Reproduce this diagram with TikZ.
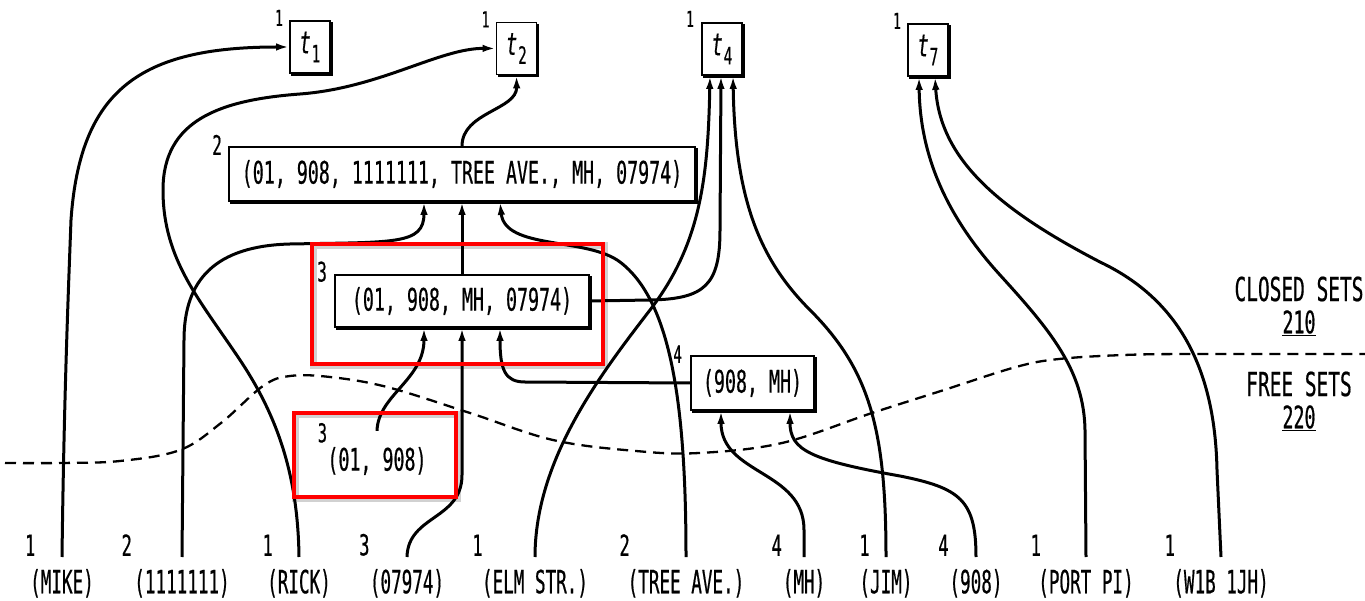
\documentclass[tikz,border=0pt]{standalone}
\usepackage{fontspec}
\setmainfont{DejaVu Sans Mono}[FakeStretch=0.59,FakeBold=0.5]
\newfontfamily\botfont{DejaVu Sans Mono}[FakeStretch=0.55,FakeBold=0.5]
\usetikzlibrary{arrows.meta}
\newcommand\tsub[1]{{\fontsize{31}{31}\selectfont\textit{t}}\kern1pt\raisebox{-9pt}{\fontsize{24}{24}\selectfont#1}}
\newcommand\shadowedges[1]{\draw[line width=3.6pt] ([xshift=2pt]#1.south west) -- (#1.south east) -- ([yshift=-2pt]#1.north east);}
\begin{document}
\begin{tikzpicture}[x=1pt,y=-1pt,
  every node/.style={font=\fontsize{31}{33}\selectfont},
  tbox/.style={draw, line width=1.8pt, minimum width=40pt, minimum height=52pt, inner sep=0pt},
  setbox/.style={draw, line width=1.8pt, inner sep=0pt},
  sup/.style={font=\fontsize{22}{22}\selectfont, inner sep=0pt, anchor=south east},
  bigsup/.style={font=\fontsize{27}{27}\selectfont, inner sep=0pt, anchor=south east},
  cnt/.style={font=\fontsize{29}{29}\selectfont, inner sep=0pt, anchor=south east, yshift=1pt},
  lbl/.style={anchor=north, inner sep=0pt, outer ysep=12pt, font=\botfont\fontsize{32}{34}\selectfont},
  conn/.style={line width=3pt, -{Latex[length=13pt,width=7.5pt]}},
  frontier/.style={line width=2.3pt, dash pattern=on 11pt off 7pt},
  hilite/.style={draw=red, line width=4pt},
  hiliteglow/.style={draw=black, opacity=0.18, line width=7pt}
]
\useasboundingbox (0,0) rectangle (1365,601);

% top target nodes
\node[tbox, label={[sup,xshift=-6pt,yshift=-6pt]north west:1}] (t1) at (310,47) {\tsub{1}};
\node[tbox, label={[sup,xshift=-6pt,yshift=-6pt]north west:1}] (t2) at (516.5,48.5) {\tsub{2}};
\node[tbox, label={[sup,xshift=-7pt,yshift=-5pt]north west:1}] (t4) at (722,49) {\tsub{4}};
\node[tbox, label={[sup,xshift=-6pt,yshift=-6pt]north west:1}] (t7) at (928,50) {\tsub{7}};
\shadowedges{t1}\shadowedges{t2}\shadowedges{t4}\shadowedges{t7}

% closed set boxes
\node[setbox, minimum width=466pt, minimum height=54pt, label={[bigsup,xshift=-6pt,yshift=-9pt]north west:2}] (big) at (462,174) {(01, 908, 1111111, TREE AVE., MH, 07974)};
\node[setbox, minimum width=254pt, minimum height=52pt, label={[bigsup,xshift=-7pt,yshift=-8pt]north west:3}] (box2) at (462,301) {(01, 908, MH, 07974)};
\node[setbox, minimum width=123pt, minimum height=54pt, label={[sup,font=\fontsize{24}{24}\selectfont,xshift=-8pt,yshift=-8pt]north west:4}] (mhbox) at (752.5,383) {(908, MH)};
\shadowedges{big}\shadowedges{box2}\shadowedges{mhbox}

% free set
\node[inner sep=0pt, label={[sup,font=\fontsize{26}{26}\selectfont,yshift=4pt]north west:3}] (pair) at (377,461) {(01, 908)};

% region labels
\node[font=\fontsize{33}{35}\selectfont] (closed) at (1299,289) {CLOSED SETS};
\node (c210) at (1299,323) {\underline{210}};
\node[font=\fontsize{33}{35}\selectfont] (free) at (1299,384) {FREE SETS};
\node (f220) at (1299,418) {\underline{220}};

% bottom items
\node[lbl, label={[cnt,xshift=5.5pt]north west:1}] (mike) at (62,557) {(MIKE)};
\node[lbl, label={[cnt,xshift=-2pt]north west:2}] (one7) at (182,557) {(1111111)};
\node[lbl, label={[cnt,xshift=6pt]north west:1}] (rick) at (299,557) {(RICK)};
\node[lbl, label={[cnt,xshift=0pt]north west:3}] (n07974) at (407,557) {(07974)};
\node[lbl, label={[cnt,xshift=1pt]north west:1}] (elm) at (535,557) {(ELM STR.)};
\node[lbl, label={[cnt,xshift=2.5pt]north west:2}] (tree) at (686,557) {(TREE AVE.)};
\node[lbl, label={[cnt,xshift=-0.5pt]north west:4}] (mh) at (804,557) {(MH)};
\node[lbl, label={[cnt,xshift=10.5pt]north west:1}] (jim) at (886,557) {(JIM)};
\node[lbl, label={[cnt,xshift=-0.5pt]north west:4}] (n908) at (976,557) {(908)};
\node[lbl, label={[cnt,xshift=3pt]north west:1}] (port) at (1086,557) {(PORT PI)};
\node[lbl, label={[cnt,xshift=2pt]north west:1}] (w1b) at (1221,557) {(W1B 1JH)};

% connectors
\draw[conn] (mike.north) .. controls (64,400) and (68,300) .. (71,220)
  .. controls (80,90) and (140,47) .. (t1.west);
\draw[conn] (rick.north) .. controls (298,480) and (280,420) .. (240,360)
  .. controls (200,300) and (163,260) .. (163,190)
  .. controls (163,120) and (220,100) .. (300,94)
  .. controls (380,88) and (440,48) .. (t2.west);
\draw[conn] (one7.north) -- (184,340) .. controls (184,280) and (215,246) .. (290,244)
  .. controls (395,242) and (424,245) .. ([xshift=-38pt]big.south);
\draw[conn] (box2.north) -- (big.south);
\draw[conn] (big.north) .. controls (462,112) and (517,110) .. (t2.south);
\draw[conn] (tree.north) .. controls (686,400) and (670,300) .. (620,262)
  .. controls (587,237) and (505,250) .. ([xshift=38pt]big.south);
\draw[conn] (elm.north) .. controls (535,460) and (600,375) .. (650,310)
  .. controls (700,245) and (708,180) .. ([xshift=-12pt]t4.south);
\draw[conn] (box2.east) -- (650,300) .. controls (705,299) and (720,285) .. (720,230) -- ([xshift=-1pt]t4.south);
\draw[conn] (jim.north) .. controls (886,430) and (870,370) .. (810,310)
  .. controls (760,260) and (735,200) .. ([xshift=11pt]t4.south);
\draw[conn] (port.north) -- (1085,430) .. controls (1084,370) and (1050,330) .. (1000,275)
  .. controls (950,220) and (920,160) .. ([xshift=-9pt]t7.south);
\draw[conn] (w1b.north) -- (1217,470) .. controls (1215,370) and (1180,300) .. (1100,262)
  .. controls (1000,210) and (940,160) .. ([xshift=7pt]t7.south);
\draw[conn] (mh.north) -- (804,530) .. controls (804,470) and (721,475) .. ([xshift=-31.5pt]mhbox.south);
\draw[conn] (n908.north) .. controls (976,500) and (960,488) .. (900,476)
  .. controls (810,460) and (790,450) .. ([xshift=37.5pt]mhbox.south);
\draw[conn] (mhbox.west) -- (525,382) .. controls (505,382) and (500,370) .. ([xshift=38pt]box2.south);
\draw[conn] ([yshift=16pt]pair.north) .. controls (378,395) and (424,380) .. ([xshift=-38pt]box2.south);
\draw[conn] (n07974.north) .. controls (408,515) and (462,520) .. (462,475) -- (box2.south);

% frontier between closed and free sets
\draw[frontier] plot[smooth, tension=0.6] coordinates {(5,463) (60,463) (120,461) (180,450) (221,423) (263,386) (290,376) (330,377) (387,387) (470,413) (553,440) (636,451) (699,453) (782,443) (872,413) (944,390) (1016,367) (1059,359) (1124,355) (1193,354) (1365,354)};

% highlight rectangles
\draw[hiliteglow] (313.5,245.5) rectangle (604.5,365.5);
\draw[hiliteglow] (295.5,414.5) rectangle (457.5,498.5);
\draw[hilite] (312,244) rectangle (603,364);
\draw[hilite] (294,413) rectangle (456,497);
\end{tikzpicture}
\end{document}
